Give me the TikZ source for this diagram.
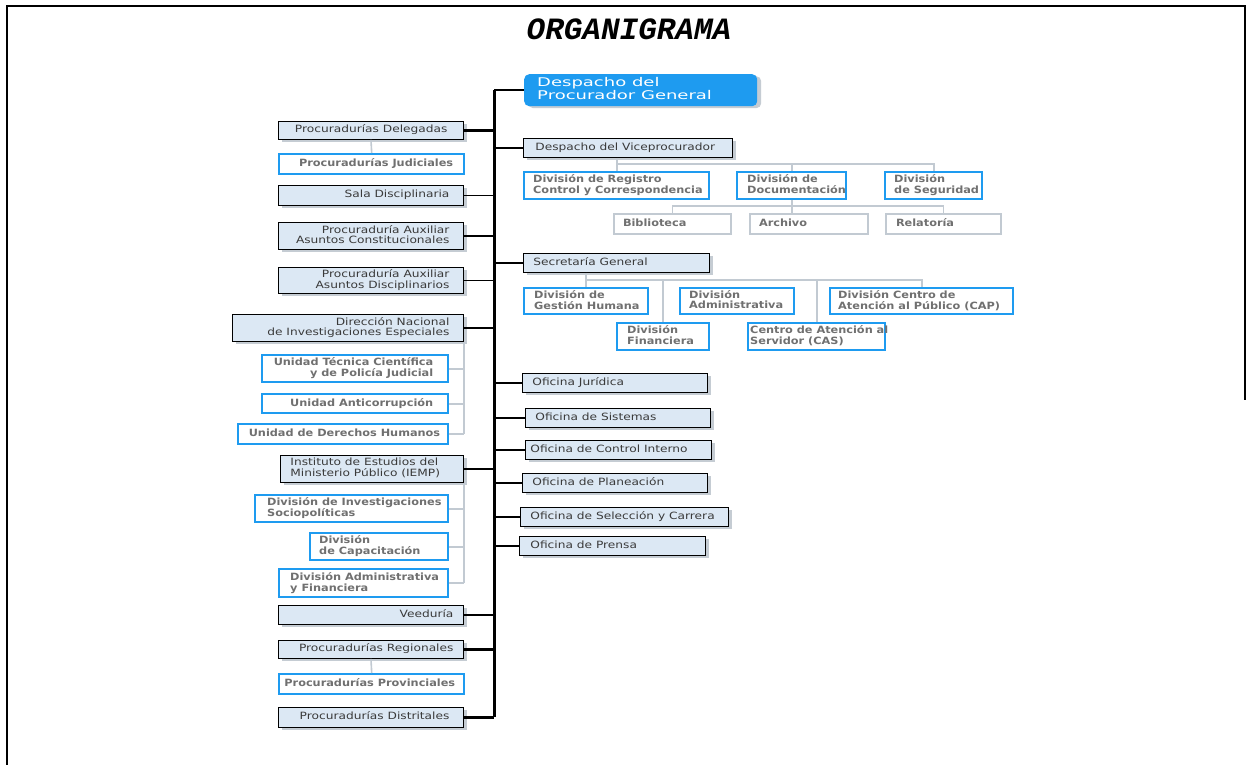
\documentclass[tikz,border=0pt]{standalone}
\usepackage{fontspec}
\setmainfont{DejaVu Sans}
\newfontfamily\boxfont[FakeStretch=1.22]{DejaVu Sans}
\newfontfamily\headfont[FakeStretch=1.5]{DejaVu Sans}
\newfontfamily\boxbfont[FakeStretch=1.13]{DejaVu Sans Bold}
\newfontfamily\titlefont{Liberation Mono}
\usetikzlibrary{shadows}
\definecolor{boxblue}{HTML}{DCE8F4}
\definecolor{brightblue}{HTML}{1E9BF0}
\definecolor{shadowgray}{HTML}{C5CCD3}
\definecolor{linegray}{HTML}{C2CAD2}
\definecolor{txtdark}{HTML}{3A3A3A}
\definecolor{txtgray}{HTML}{707070}
\tikzset{
  base/.style={inner ysep=0pt},
  darkbox/.style={base, draw=black, line width=0.9pt, fill=boxblue, text=txtdark,
    font=\boxfont\fontsize{10}{10.5}\selectfont,
    drop shadow={shadow xshift=4pt, shadow yshift=-3pt, fill=shadowgray, opacity=1}},
  bluebox/.style={base, draw=brightblue, line width=2.4pt, fill=white, text=txtgray,
    font=\boxbfont\fontsize{10}{10.5}\selectfont},
  graybox/.style={base, draw=linegray, line width=2pt, fill=white, text=txtgray,
    font=\boxbfont\fontsize{10}{10.5}\selectfont},
  headbox/.style={base, fill=brightblue, rounded corners=5pt, text=white,
    font=\headfont\fontsize{12}{12}\selectfont,
    drop shadow={shadow xshift=4pt, shadow yshift=-2pt, fill=shadowgray, opacity=1}},
  trunkline/.style={line width=3pt, black},
  connthick/.style={line width=2.6pt, black},
  connthin/.style={line width=1.2pt, black},
  gline/.style={draw=linegray, line width=1.6pt},
}
\newcommand\bx[9]{%
  \pgfmathsetmacro\tw{#5-2*#7}%
  \node[#2, anchor=north west, minimum height=#6pt, minimum width=#5pt, inner xsep=#7pt] (#1) at (#3,#4)
    {\makebox[\tw pt][#8]{\begin{tabular}{@{}#8@{}}#9\end{tabular}}};}
\begin{document}
\begin{tikzpicture}[x=1pt,y=-1pt]
\useasboundingbox (0,0) rectangle (1251,765);
\fill[white] (0,0) rectangle (1251,765);
% frame
\draw[line width=2pt] (7,765) -- (7,6) -- (1245,6) -- (1245,400);
\node (title) at (629,29) {\titlefont\bfseries\itshape\fontsize{31}{31}\selectfont ORGANIGRAMA};

% right column
\bx{desp}{headbox}{524}{74}{233}{32}{13}{l}{Despacho del\\Procurador General}
\bx{vice}{darkbox}{523}{138}{209}{19}{12}{l}{Despacho del Viceprocurador}
\bx{reg}{bluebox}{523}{171}{185}{27}{9}{l}{División de Registro\\Control y Correspondencia}
\bx{doc}{bluebox}{736}{171}{109}{27}{10}{l}{División de\\Documentación}
\bx{seg}{bluebox}{884}{171}{97}{27}{9}{l}{División\\de Seguridad}
\bx{bib}{graybox}{613}{213}{117}{20}{9}{l}{Biblioteca}
\bx{arch}{graybox}{749}{213}{118}{20}{9}{l}{Archivo}
\bx{rel}{graybox}{885}{213}{115}{20}{10}{l}{Relatoría}
\bx{sec}{darkbox}{523}{253}{186}{19}{10}{l}{Secretaría General}
\bx{gh}{bluebox}{523}{287}{124}{26}{10}{l}{División de\\Gestión Humana}
\bx{fin}{bluebox}{616}{322}{92}{27}{10}{l}{División\\Financiera}
\bx{adm}{bluebox}{679}{287}{114}{26}{9}{l}{División\\Administrativa}
\bx{cas}{bluebox}{747}{322}{137}{27}{2}{l}{Centro de Atención al\\Servidor (CAS)}
\bx{cap}{bluebox}{829}{287}{183}{26}{8}{l}{División Centro de\\Atención al Público (CAP)}
\bx{ojur}{darkbox}{522}{373}{185}{19}{10}{l}{Oficina Jurídica}
\bx{osis}{darkbox}{525}{408}{185}{19}{10}{l}{Oficina de Sistemas}
\bx{ocon}{darkbox}{525}{440}{186}{19}{5}{l}{Oficina de Control Interno}
\bx{opla}{darkbox}{522}{473}{185}{19}{10}{l}{Oficina de Planeación}
\bx{osel}{darkbox}{520}{507}{208}{19}{10}{l}{Oficina de Selección y Carrera}
\bx{opre}{darkbox}{519}{536}{186}{19}{11}{l}{Oficina de Prensa}

% left column
\bx{deleg}{darkbox}{278}{121}{185}{18}{16}{r}{Procuradurías Delegadas}
\bx{jud}{bluebox}{278}{153}{185}{20}{11}{r}{Procuradurías Judiciales}
\bx{sala}{darkbox}{278}{185}{185}{20}{14}{r}{Sala Disciplinaria}
\bx{auxc}{darkbox}{278}{222}{185}{27}{14}{r}{Procuraduría Auxiliar\\Asuntos Constitucionales}
\bx{auxd}{darkbox}{278}{267}{185}{26}{14}{r}{Procuraduría Auxiliar\\Asuntos Disciplinarios}
\bx{dir}{darkbox}{232}{314}{231}{27}{14}{r}{Dirección Nacional\\de Investigaciones Especiales}
\bx{utc}{bluebox}{261}{354}{186}{27}{15}{r}{Unidad Técnica Científica\\y de Policía Judicial}
\bx{uac}{bluebox}{261}{393}{186}{19}{15}{r}{Unidad Anticorrupción}
\bx{udh}{bluebox}{237}{423}{210}{20}{8}{r}{Unidad de Derechos Humanos}
\bx{iemp}{darkbox}{280}{455}{183}{27}{10}{l}{Instituto de Estudios del\\Ministerio Público (IEMP)}
\bx{dis}{bluebox}{254}{494}{193}{27}{12}{l}{División de Investigaciones\\Sociopolíticas}
\bx{dcap}{bluebox}{309}{532}{138}{27}{9}{l}{División\\de Capacitación}
\bx{daf}{bluebox}{278}{568}{169}{28}{11}{l}{División Administrativa\\y Financiera}
\bx{vee}{darkbox}{278}{605}{185}{19}{10}{r}{Veeduría}
\bx{preg}{darkbox}{278}{640}{185}{18}{10}{r}{Procuradurías Regionales}
\bx{pprov}{bluebox}{278}{673}{185}{20}{9}{r}{Procuradurías Provinciales}
\bx{pdis}{darkbox}{278}{707}{185}{20}{14}{r}{Procuradurías Distritales}

% trunk
\coordinate (ttop) at (494,90);
\coordinate (tbot) at (494,717);
\draw[trunkline] (ttop) -- (tbot);
\draw[connthick] (desp.west) -- (desp.west -| ttop);
\foreach \n in {vice,sec,ojur,osis,ocon,opla,osel}
  \draw[connthick] (\n.west) -- (\n.west -| ttop);
\draw[connthin] (opre.west) -- (opre.west -| ttop);
\foreach \n in {deleg,vee,preg,pdis}
  \draw[connthick] (\n.east) -- (\n.east -| ttop);
\foreach \n in {sala,auxc,auxd,dir,iemp}
  \draw[connthin] (\n.east) -- (\n.east -| ttop);

% grey links
\draw[gline] (deleg.south) -- (jud.north);
\draw[gline] (preg.south) -- (pprov.north);
\coordinate (vbus) at (0,164);
\draw[gline] (vice.south -| reg.north) -- (reg.north);
\draw[gline] (reg.north |- vbus) -- (seg.north |- vbus) -- (seg.north);
\draw[gline] (doc.north) -- (doc.north |- vbus);
\coordinate (dbus) at (0,206);
\draw[gline] (doc.south) -- (doc.south |- arch.north);
\draw[gline] (bib.north) -- (bib.north |- dbus) -- (rel.north |- dbus) -- (rel.north);
\coordinate (sbus) at (0,280);
\draw[gline] (sec.south -| gh.north) -- (gh.north);
\draw[gline] (gh.north |- sbus) -- (cap.north |- sbus) -- (cap.north);
\draw[gline] (fin.north) -- (fin.north |- sbus);
\draw[gline] (cas.north) -- (cas.north |- sbus);
\draw[gline] (dir.south east) -- (dir.south east |- udh.east);
\foreach \n in {utc,uac,udh}
  \draw[gline] (\n.east) -- (\n.east -| dir.south east);
\draw[gline] (iemp.south east) -- (iemp.south east |- daf.east);
\foreach \n in {dis,dcap,daf}
  \draw[gline] (\n.east) -- (\n.east -| iemp.south east);
\end{tikzpicture}
\end{document}
